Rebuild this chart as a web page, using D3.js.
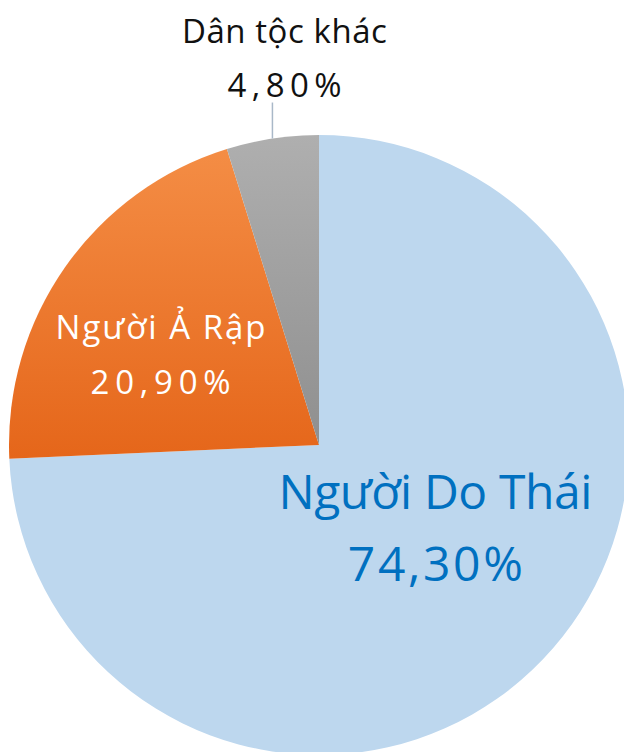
<!DOCTYPE html>
<html>
<head>
<meta charset="utf-8">
<script src="https://cdn.jsdelivr.net/npm/d3@7"></script>
<style>
  body { margin: 0; background: #fff; }
  svg { display: block; }
  text { font-family: "Open Sans", Lato, sans-serif; font-weight: 500; }
</style>
</head>
<body>
<div id="chart"></div>
<script>
var categories = ["Người Do Thái", "Người Ả Rập", "Dân tộc khác"];
var values = [74.3, 20.9, 4.8];
var valueLabels = ["74,30%", "20,90%", "4,80%"];

var wd = 624, ht = 752;
var cx = 319, cy = 445, r = 310;

var svg = d3.select('#chart')
	.append("svg")
	.attr("width", wd)
	.attr("height", ht);

var defs = svg.append("defs");
var gOrange = defs.append("linearGradient")
	.attr("id", "gOrange")
	.attr("x1", 0).attr("y1", 0).attr("x2", 0).attr("y2", 1);
gOrange.append("stop").attr("offset", "0%").attr("stop-color", "#f48d45");
gOrange.append("stop").attr("offset", "100%").attr("stop-color", "#e5661a");
var gGray = defs.append("linearGradient")
	.attr("id", "gGray")
	.attr("x1", 0).attr("y1", 0).attr("x2", 0).attr("y2", 1);
gGray.append("stop").attr("offset", "0%").attr("stop-color", "#afafaf");
gGray.append("stop").attr("offset", "100%").attr("stop-color", "#8f8f8f");

var fills = ["#bdd7ee", "url(#gOrange)", "url(#gGray)"];

var data = categories.map(function (c, i) {
	return {name: c, value: values[i], label: valueLabels[i], i: i};
});

var pie = d3.pie().sort(null).value(function (d) { return d.value; });
var arc = d3.arc().innerRadius(0).outerRadius(r);
var arcs = pie(data);

var g = svg.append("g").attr("transform", "translate(" + cx + "," + cy + ")");

g.selectAll('.slice')
	.data(arcs)
	.enter()
	.append('path')
	.attr('class', 'slice')
	.attr('d', arc)
	.attr('fill', function (d) { return fills[d.data.i]; });

// inside labels
var inner = [
	{r: 150, dx: 8, dy: -40, size: 48, color: "#0070c0", gap: 72, w1: 314, w2: 175},
	{r: 190, dx: -3, dy: 3, size: 33, color: "#ffffff", gap: 55, w1: 210, w2: 140}
];

arcs.slice(0, 2).forEach(function (a, i) {
	var o = inner[i];
	var c = d3.arc().innerRadius(o.r).outerRadius(o.r).centroid(a);
	var t = g.append("text")
		.attr("text-anchor", "middle")
		.attr("fill", o.color)
		.style("font-size", o.size + "px");
	t.append("tspan")
		.attr("x", c[0] + o.dx)
		.attr("y", c[1] + o.dy)
		.attr("textLength", o.w1)
		.text(a.data.name);
	t.append("tspan")
		.attr("x", c[0] + o.dx)
		.attr("y", c[1] + o.dy + o.gap)
		.attr("textLength", o.w2)
		.text(a.data.label);
});

// outside label for the small slice
var small = arcs[2];
var p0 = d3.arc().innerRadius(r).outerRadius(r).centroid(small);
g.append("line")
	.attr("x1", p0[0]).attr("y1", p0[1])
	.attr("x2", p0[0]).attr("y2", p0[1] - 36)
	.attr("stroke", "#a9b8c8")
	.attr("stroke-width", 1.5);

var ot = g.append("text")
	.attr("text-anchor", "middle")
	.attr("fill", "#111")
	.style("font-size", "33px");
ot.append("tspan")
	.attr("x", p0[0] + 12)
	.attr("y", 43 - cy)
	.attr("textLength", 205)
	.text(small.data.name);
ot.append("tspan")
	.attr("x", p0[0] + 12)
	.attr("y", 97 - cy)
	.attr("textLength", 114)
	.text(small.data.label);
</script>
</body>
</html>
